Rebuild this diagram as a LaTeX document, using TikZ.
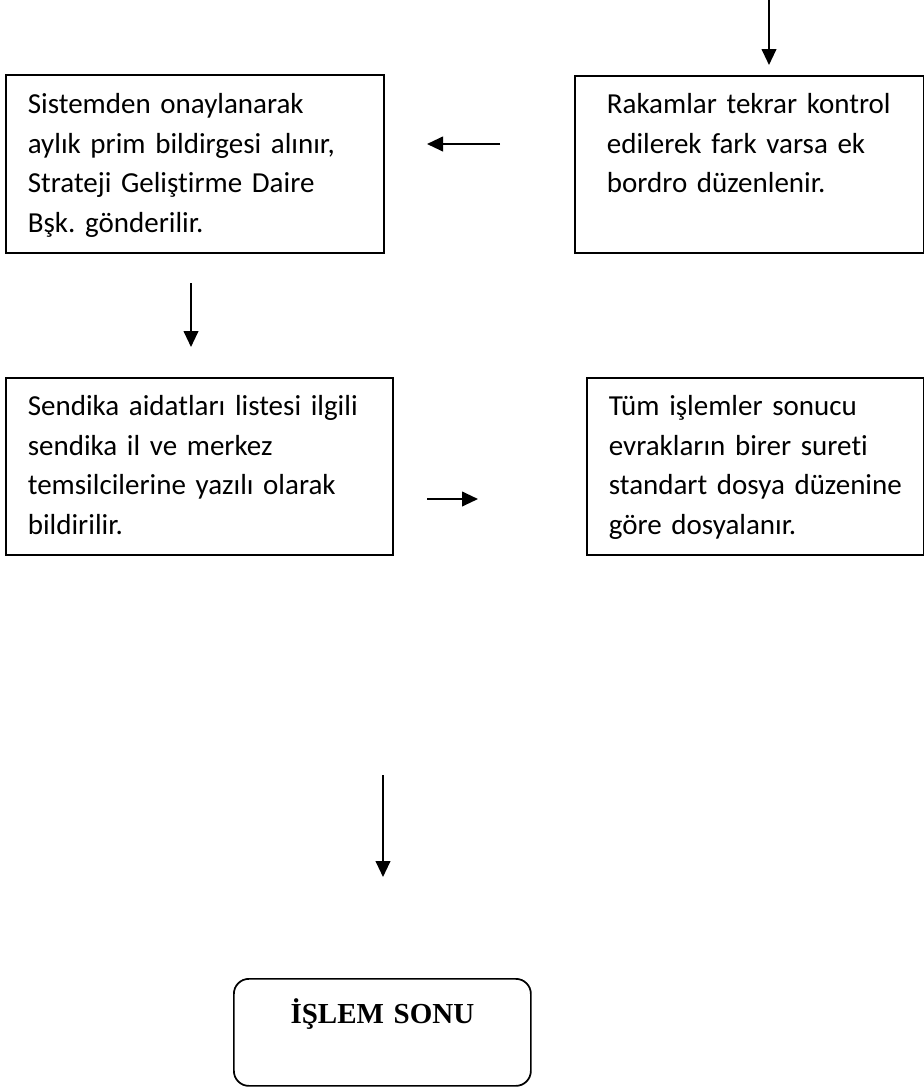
\documentclass[tikz,border=0pt]{standalone}
\usepackage{fontspec}
\setmainfont{Carlito}[Ligatures=NoCommon]
\newfontfamily\sonfont{Liberation Serif}
\usetikzlibrary{arrows.meta,calc,positioning}
\frenchspacing

\begin{document}
\begin{tikzpicture}[x=0.75pt,y=0.75pt,yscale=-1,xscale=1,
  kutu/.style={draw,line width=1.3pt,rectangle,anchor=north west,inner ysep=0pt,align=left,font=\fontsize{21.75}{29.6}\selectfont},
  ok/.style={line width=1.5pt,-{Triangle[length=12pt,width=11pt]}}]

\useasboundingbox (0,0) rectangle (924,1089);


\node (onay) [kutu,inner xsep=16.5pt,text width=250.5pt,text height=29.25pt,text depth=104.25pt] at (5,74) {Sistemden onaylanarak\\aylık prim bildirgesi alınır,\\Strateji Geliştirme Daire\\Bşk. gönderilir.};

\node (rakam) [kutu,inner xsep=24pt,text width=213.75pt,text height=28.5pt,text depth=104.25pt] at (574,75) {Rakamlar tekrar kontrol\\edilerek fark varsa ek\\bordro düzenlenir.};

\node (sendika) [kutu,inner xsep=16.5pt,text width=257.25pt,text height=28.5pt,text depth=104.25pt] at (5,377) {Sendika aidatları listesi ilgili\\sendika il ve merkez\\temsilcilerine yazılı olarak\\bildirilir.};

\node (dosya) [kutu,inner xsep=16.5pt,text width=219.75pt,text height=28.5pt,text depth=104.25pt] at (586,377) {Tüm işlemler sonucu\\evrakların birer sureti\\standart dosya düzenine\\göre dosyalanır.};

\node (son) [draw,line width=1.3pt,rounded corners=11.25pt,anchor=north west,inner sep=0pt,text width=222.75pt,align=center,text height=33.75pt,text depth=46.5pt,font=\sonfont\bfseries\fontsize{21.75}{26}\selectfont] at (233,978) {İŞLEM SONU};


\coordinate (g1) at (769,0);
\coordinate (g2) at (769,65);
\coordinate (s1) at (500,144);
\coordinate (s2) at (427,144);
\coordinate (a1) at (191,283);
\coordinate (a2) at (191,347);
\coordinate (r1) at (427,499);
\coordinate (r2) at (478,499);
\coordinate (b1) at (383,775);
\coordinate (b2) at (383,877);

\draw [ok] (g1) -- (g2);
\draw [ok] (s1) -- (s2);
\draw [ok] (a1) -- (a2);
\draw [ok] (r1) -- (r2);
\draw [ok] (b1) -- (b2);


\end{tikzpicture}
\end{document}
